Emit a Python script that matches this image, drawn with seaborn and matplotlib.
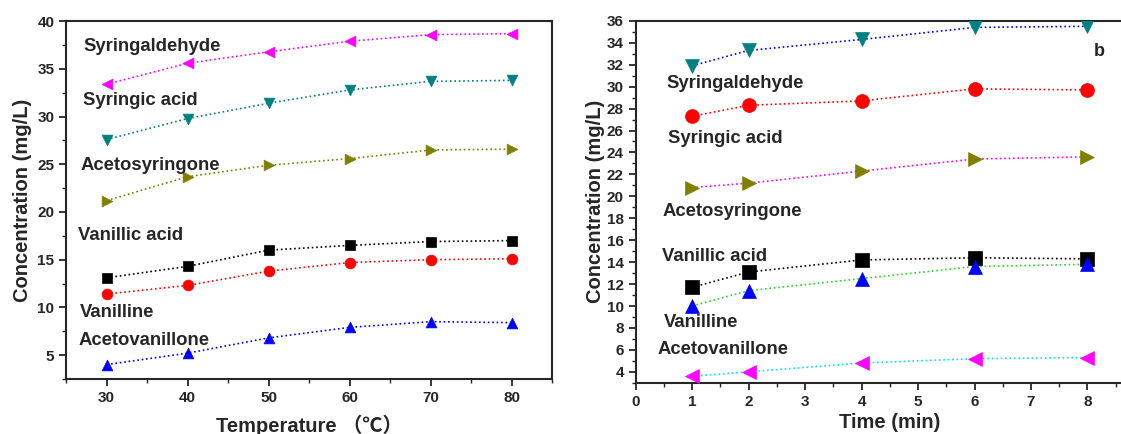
import numpy as np
import seaborn as sns
import matplotlib.pyplot as plt
from matplotlib.ticker import MultipleLocator, FixedLocator

# Panel a: temperature series
temp = [30, 40, 50, 60, 70, 80]
a_syringaldehyde = [33.4, 35.6, 36.8, 37.9, 38.6, 38.7]
a_syringic_acid = [27.6, 29.8, 31.4, 32.8, 33.7, 33.8]
a_acetosyringone = [21.2, 23.7, 24.9, 25.6, 26.5, 26.6]
a_vanillic_acid = [13.1, 14.3, 16.0, 16.5, 16.9, 17.0]
a_vanilline = [11.4, 12.3, 13.8, 14.7, 15.0, 15.1]
a_acetovanillone = [4.0, 5.2, 6.8, 7.9, 8.5, 8.4]

# Panel b: time series
time_min = [1, 2, 4, 6, 8]
b_syringaldehyde = [31.9, 33.3, 34.3, 35.4, 35.5]
b_syringic_acid = [27.3, 28.3, 28.7, 29.8, 29.7]
b_acetosyringone = [20.8, 21.2, 22.3, 23.4, 23.6]
b_vanillic_acid = [11.7, 13.1, 14.2, 14.4, 14.3]
b_vanilline = [10.0, 11.4, 12.5, 13.6, 13.8]
b_acetovanillone = [3.6, 4.0, 4.8, 5.2, 5.3]

names = ["Syringaldehyde", "Syringic acid", "Acetosyringone",
         "Vanillic acid", "Vanilline", "Acetovanillone"]
a_label_pos = [(27.1, 37.4), (27.1, 31.7), (26.8, 24.9),
               (26.5, 17.5), (26.7, 9.5), (26.5, 6.5)]
b_label_pos = [(0.55, 30.3), (0.57, 25.3), (0.47, 18.6),
               (0.47, 14.5), (0.5, 8.5), (0.38, 6.0)]

sns.set_style("ticks")
plt.rcParams['font.family'] = ['Liberation Sans', 'DejaVu Sans']
plt.rcParams['font.weight'] = 'bold'

fig = plt.figure(figsize=(11.21, 4.34), dpi=100)
ax1 = fig.add_axes([0.059, 0.127, 0.4335, 0.824])
ax2 = fig.add_axes([0.567, 0.118, 0.4535, 0.834])


def draw(ax, x, y, line_color, marker, marker_color, ms):
    sns.lineplot(x=x, y=y, ax=ax, color=line_color, linestyle=':', linewidth=1.2,
                 zorder=2)
    sns.scatterplot(x=x, y=y, ax=ax, marker=marker, color=marker_color, s=ms,
                    edgecolor=marker_color, linewidth=0.5, zorder=3)


a_series = [a_syringaldehyde, a_syringic_acid, a_acetosyringone,
            a_vanillic_acid, a_vanilline, a_acetovanillone]
a_styles = [("#ff00ff", "<", "#ff00ff"), ("#008080", "v", "#008080"),
            ("#808000", ">", "#808000"), ("black", "s", "black"),
            ("red", "o", "red"), ("blue", "^", "blue")]
for vals, (lc, mk, mc) in zip(a_series, a_styles):
    draw(ax1, temp, vals, lc, mk, mc, 60)

b_series = [b_syringaldehyde, b_syringic_acid, b_acetosyringone,
            b_vanillic_acid, b_vanilline, b_acetovanillone]
b_styles = [("blue", "v", "#008080"), ("red", "o", "red"),
            ("#ff00ff", ">", "#808000"), ("black", "s", "black"),
            ("#22dd22", "^", "blue"), ("#00e5ee", "<", "#ff00ff")]
for vals, (lc, mk, mc) in zip(b_series, b_styles):
    draw(ax2, time_min, vals, lc, mk, mc, 100)

for name, (x, y) in zip(names, a_label_pos):
    ax1.text(x, y, name, fontsize=13.3, fontweight='bold', va='center')
for name, (x, y) in zip(names, b_label_pos):
    ax2.text(x, y, name, fontsize=13.3, fontweight='bold', va='center')
ax2.text(8.12, 33.2, "b", fontsize=13, fontweight='bold', va='center')

ax1.set_xlim(25, 85)
ax1.set_ylim(2.5, 40)
ax1.xaxis.set_major_locator(MultipleLocator(10))
ax1.xaxis.set_minor_locator(MultipleLocator(5))
ax1.yaxis.set_major_locator(MultipleLocator(5))
ax1.yaxis.set_minor_locator(MultipleLocator(2.5))
ax1.set_xlabel("Temperature （℃）", fontsize=14.5, fontweight='bold',
               family=['Liberation Sans', 'Noto Sans CJK SC'])
ax1.set_ylabel("Concentration (mg/L)", fontsize=14.5, fontweight='bold')

ax2.set_xlim(0, 9)
ax2.set_ylim(3, 36)
ax2.xaxis.set_major_locator(FixedLocator(list(range(0, 9))))
ax2.xaxis.set_minor_locator(MultipleLocator(0.5))
ax2.yaxis.set_major_locator(MultipleLocator(2))
ax2.yaxis.set_minor_locator(MultipleLocator(1))
ax2.set_xlabel("Time (min)", fontsize=14.5, fontweight='bold')
ax2.set_ylabel("Concentration (mg/L)", fontsize=14.5, fontweight='bold')

for ax in (ax1, ax2):
    for sp in ax.spines.values():
        sp.set_linewidth(1.5)
        sp.set_visible(True)
    ax.tick_params(which='major', direction='out', length=5, width=1.3,
                   labelsize=11, top=False, right=False)
    ax.tick_params(which='minor', direction='out', length=3, width=1.0,
                   top=False, right=False)
    for lab in ax.get_xticklabels() + ax.get_yticklabels():
        lab.set_fontweight('bold')
ax1.xaxis.labelpad = 7
ax1.yaxis.labelpad = 4
ax2.xaxis.labelpad = 3
ax2.yaxis.labelpad = 1

fig.savefig("out.png", dpi=100)
